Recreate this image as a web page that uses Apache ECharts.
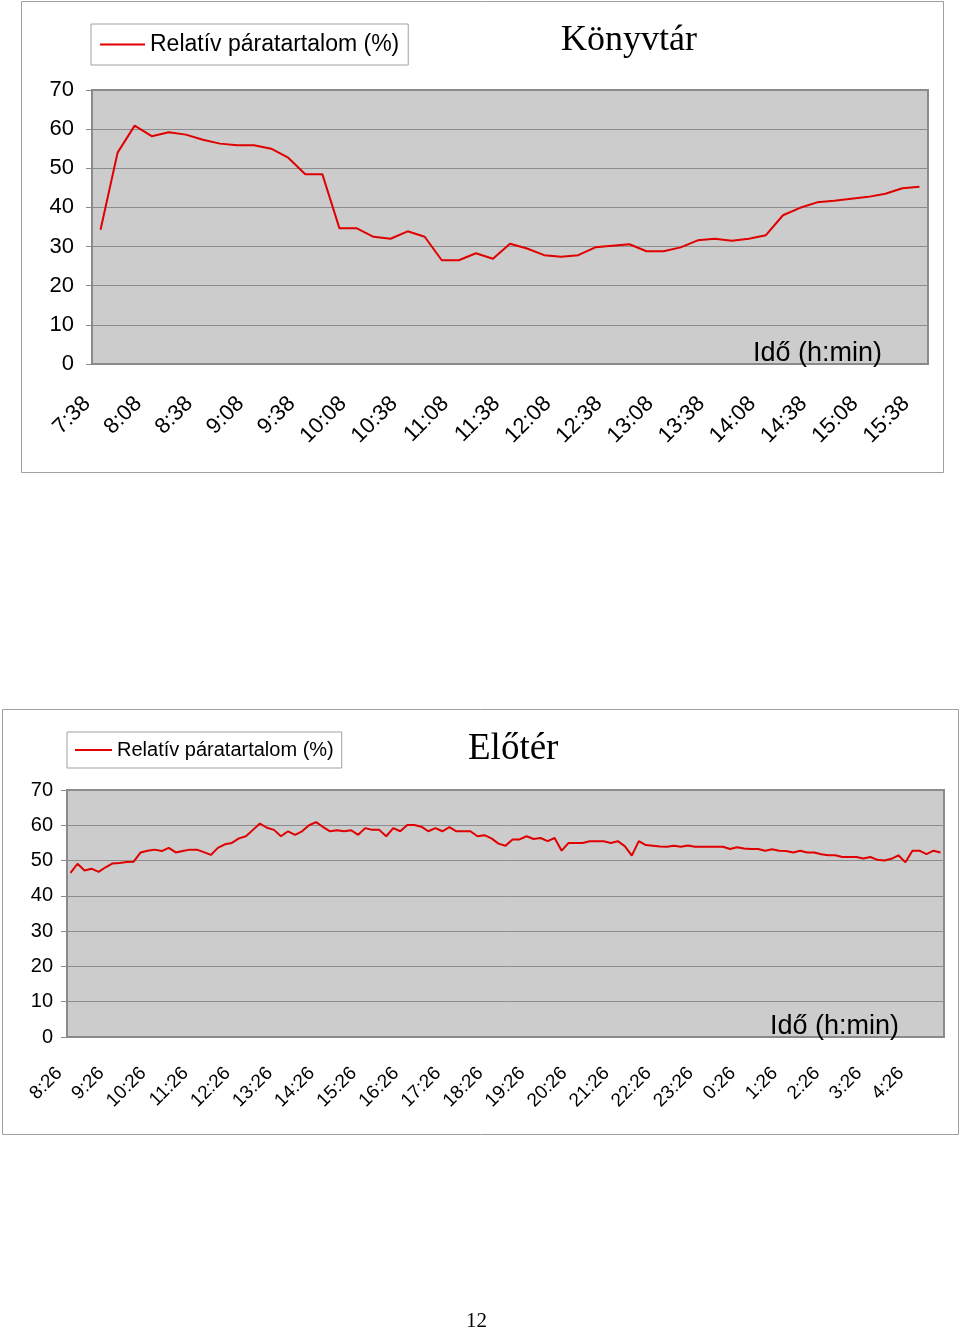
<!DOCTYPE html>
<html>
<head>
<meta charset="utf-8">
<script src="https://cdn.jsdelivr.net/npm/echarts@6/dist/echarts.min.js"></script>
<style>
html,body{margin:0;padding:0;background:#fff;}
#c{width:960px;height:1330px;}
</style>
</head>
<body>
<div id="c"></div>
<script>
// ---- Data ----
const seriesName = 'Relatív páratartalom (%)';

const konyvtarTimes = ['7:38','7:48','7:58','8:08','8:18','8:28','8:38','8:48','8:58','9:08','9:18','9:28','9:38','9:48','9:58','10:08','10:18','10:28','10:38','10:48','10:58','11:08','11:18','11:28','11:38','11:48','11:58','12:08','12:18','12:28','12:38','12:48','12:58','13:08','13:18','13:28','13:38','13:48','13:58','14:08','14:18','14:28','14:38','14:48','14:58','15:08','15:18','15:28','15:38'];

const konyvtarHumidity = [34.3,54.0,60.9,58.2,59.2,58.6,57.3,56.3,55.9,55.9,55.0,52.7,48.5,48.5,34.7,34.7,32.5,32.0,33.9,32.5,26.5,26.5,28.3,26.9,30.7,29.5,27.8,27.4,27.8,29.8,30.2,30.6,28.8,28.8,29.8,31.6,32.0,31.5,32.0,32.9,38.0,39.9,41.3,41.7,42.2,42.7,43.5,44.9,45.3];

const eloterTimes = [
'8:26','8:36','8:46','8:56','9:06','9:16',
'9:26','9:36','9:46','9:56','10:06','10:16',
'10:26','10:36','10:46','10:56','11:06','11:16',
'11:26','11:36','11:46','11:56','12:06','12:16',
'12:26','12:36','12:46','12:56','13:06','13:16',
'13:26','13:36','13:46','13:56','14:06','14:16',
'14:26','14:36','14:46','14:56','15:06','15:16',
'15:26','15:36','15:46','15:56','16:06','16:16',
'16:26','16:36','16:46','16:56','17:06','17:16',
'17:26','17:36','17:46','17:56','18:06','18:16',
'18:26','18:36','18:46','18:56','19:06','19:16',
'19:26','19:36','19:46','19:56','20:06','20:16',
'20:26','20:36','20:46','20:56','21:06','21:16',
'21:26','21:36','21:46','21:56','22:06','22:16',
'22:26','22:36','22:46','22:56','23:06','23:16',
'23:26','23:36','23:46','23:56','0:06','0:16',
'0:26','0:36','0:46','0:56','1:06','1:16',
'1:26','1:36','1:46','1:56','2:06','2:16',
'2:26','2:36','2:46','2:56','3:06','3:16',
'3:26','3:36','3:46','3:56','4:06','4:16',
'4:26','4:36','4:46','4:56','5:06'];

const eloterHumidity = [
46.5,49.1,47.2,47.7,46.8,48.1,49.2,49.3,49.6,49.7,52.3,52.8,53.1,52.7,53.6,52.3,52.7,53.1,53.1,52.4,51.6,
53.6,54.6,55.0,56.3,56.9,58.7,60.5,59.3,58.7,56.9,58.3,57.3,58.3,60.0,60.9,59.5,58.3,58.6,58.3,58.6,57.3,
59.2,58.7,58.7,56.9,59.2,58.3,60.1,60.1,59.6,58.3,59.2,58.3,59.5,58.3,58.3,58.3,56.9,57.2,56.3,54.8,54.2,
56.0,56.0,56.9,56.1,56.4,55.5,56.4,52.8,55.0,55.0,55.0,55.5,55.5,55.5,55.0,55.5,54.1,51.4,55.5,54.4,
54.2,54.0,53.9,54.2,53.9,54.3,53.9,53.9,53.9,53.9,53.9,53.3,53.8,53.4,53.3,53.3,52.8,53.2,52.8,52.7,52.3,
52.8,52.3,52.3,51.8,51.5,51.5,51.0,51.0,51.0,50.6,51.0,50.2,50.0,50.5,51.5,49.5,52.8,52.8,51.8,52.8,52.3];

const yTicks = {min:0, max:70, interval:10};

// ---- Chart ----
const SANS = 'Liberation Sans, Arial, sans-serif';
const SERIF = 'Liberation Serif, Times New Roman, serif';
const LINE_COLOR = '#E00000';

const chart = echarts.init(document.getElementById('c'), null, {renderer:'canvas'});

function gridCfg(left, top, width, height){
  return {left, top, width, height, show:true, backgroundColor:'#CCCCCC', borderColor:'#8A8A8A', borderWidth:2, containLabel:false};
}
function xAxisCfg(idx, data, interval, fontSize, margin, pad){
  return {
    gridIndex: idx, type:'category', data, boundaryGap:true,
    axisLine:{show:true, lineStyle:{color:'#8A8A8A', width:1}},
    axisTick:{show:false},
    splitLine:{show:false},
    axisLabel:{interval, rotate:45, fontSize, color:'#000', fontFamily:SANS, margin, padding:[0,pad,0,0]}
  };
}
function yAxisCfg(idx, fontSize, margin){
  return {
    gridIndex: idx, type:'value', min:yTicks.min, max:yTicks.max, interval:yTicks.interval,
    axisLine:{show:false},
    axisTick:{show:true, length:6, lineStyle:{color:'#8A8A8A'}},
    splitLine:{show:true, lineStyle:{color:'#8C8C8C', width:1}},
    axisLabel:{fontSize, color:'#000', fontFamily:SANS, margin}
  };
}
function legendCfg(left, top, fontSize, itemWidth, pad){
  return {
    left, top, orient:'horizontal',
    data:[{name:seriesName, icon:'rect'}],
    itemWidth, itemHeight:2,
    backgroundColor:'#fff', borderColor:'#A0A0A0', borderWidth:1, borderRadius:0,
    padding:pad,
    selectedMode:false,
    textStyle:{fontSize, color:'#000', fontFamily:SANS}
  };
}

const option = {
  animation:false,
  backgroundColor:'#fff',
  title:[
    {text:'Könyvtár', left:561, top:23, padding:0, textStyle:{fontFamily:SERIF, fontSize:36, fontWeight:'normal', color:'#000'}},
    {text:'Előtér', left:468, top:731, padding:0, textStyle:{fontFamily:SERIF, fontSize:37, fontWeight:'normal', color:'#000'}},
    {text:'Idő (h:min)', left:753, top:340, padding:0, textStyle:{fontFamily:SANS, fontSize:27, fontWeight:'normal', color:'#000'}},
    {text:'Idő (h:min)', left:770, top:1013, padding:0, textStyle:{fontFamily:SANS, fontSize:27, fontWeight:'normal', color:'#000'}},
    {text:'12', left:466, top:1311, padding:0, textStyle:{fontFamily:SERIF, fontSize:21, fontWeight:'normal', color:'#000'}}
  ],
  legend:[
    legendCfg(91, 24, 23, 45, [9,9,9,9]),
    legendCfg(67, 732, 20, 37, [8,8,8,8])
  ],
  grid:[
    gridCfg(92, 90, 836, 274),
    gridCfg(67, 790, 877, 247)
  ],
  xAxis:[
    xAxisCfg(0, konyvtarTimes, 2, 22, 23, 19),
    xAxisCfg(1, eloterTimes, 5, 19, 22, 16)
  ],
  yAxis:[
    yAxisCfg(0, 22, 18),
    yAxisCfg(1, 20, 14)
  ],
  series:[
    {name:seriesName, type:'line', xAxisIndex:0, yAxisIndex:0, data:konyvtarHumidity, showSymbol:false, symbol:'none', color:LINE_COLOR, lineStyle:{color:LINE_COLOR, width:2}},
    {name:seriesName, type:'line', xAxisIndex:1, yAxisIndex:1, data:eloterHumidity, showSymbol:false, symbol:'none', color:LINE_COLOR, lineStyle:{color:LINE_COLOR, width:2}}
  ],
  graphic:[
    {type:'rect', z:-10, silent:true, shape:{x:21.5, y:1.5, width:922, height:471}, style:{fill:'none', stroke:'#A0A0A0', lineWidth:1}},
    {type:'rect', z:-10, silent:true, shape:{x:2.5, y:709.5, width:956, height:425}, style:{fill:'none', stroke:'#A0A0A0', lineWidth:1}}
  ]
};
chart.setOption(option);
</script>
</body>
</html>
